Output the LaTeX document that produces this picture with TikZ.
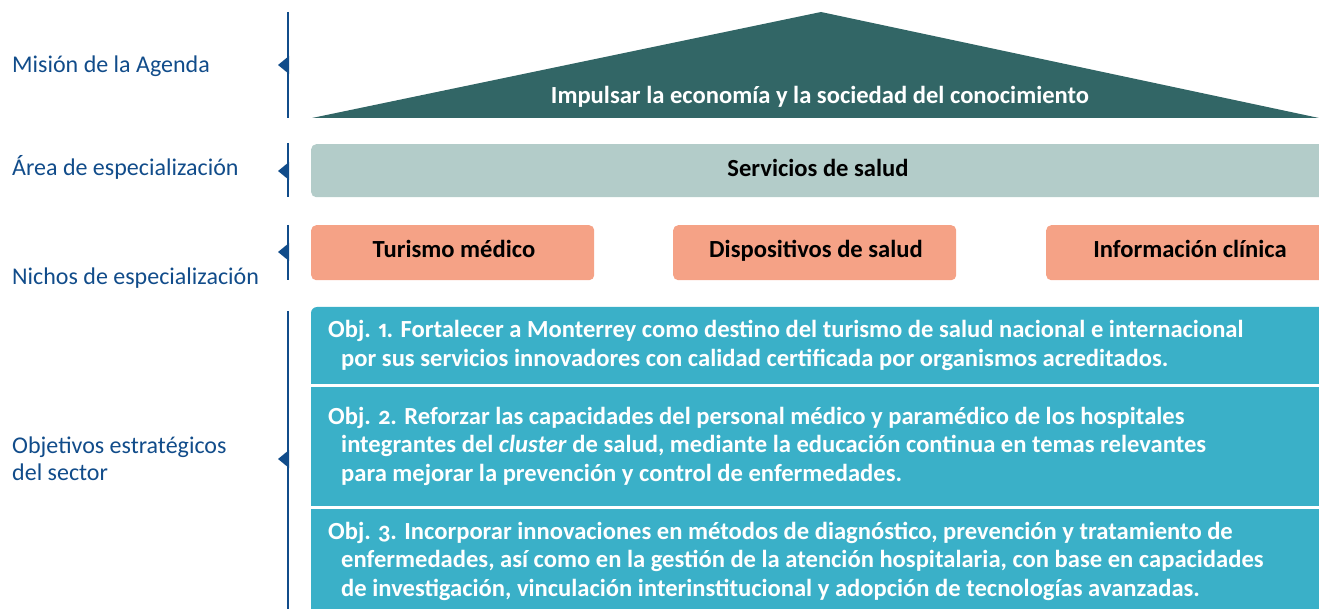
\documentclass[tikz,border=0pt]{standalone}
\usepackage{fontspec}
\setmainfont[Numbers={OldStyle,Proportional}]{Carlito}
\usetikzlibrary{positioning}

\definecolor{agendablue}{HTML}{114C8A}
\definecolor{misionteal}{HTML}{326666}
\definecolor{areagray}{HTML}{B3CCC9}
\definecolor{nichosalmon}{HTML}{F5A286}
\definecolor{objcyan}{HTML}{3AB0C8}

\begin{document}
\begin{tikzpicture}[
  x=1pt, y=-1pt,
  level/.style={font=\fontsize{24}{27}\selectfont, text=agendablue,
                anchor=base west, align=left, inner sep=0pt},
  bracket/.style={draw=agendablue, line width=2.7pt},
  tip/.style={fill=agendablue},
  boldtxt/.style={font=\bfseries\fontsize{24.6}{28}\selectfont, anchor=base, inner sep=0pt},
  nicho/.style={fill=nichosalmon, rounded corners=5pt, minimum height=55pt,
                minimum width=283pt, inner sep=0pt, anchor=north west},
  objtext/.style={anchor=base west, align=left, inner sep=0pt, text=white,
                  font=\bfseries\fontsize{24.6}{28.8}\selectfont}
]
  \useasboundingbox (0,0) rectangle (1319,609);

  % left side: levels (multi-line nodes sit on their last baseline)
  \node[level] (mision) at (12,73)  {Misión de la Agenda};
  \node[level] (area)   at (12,176) {Área de especialización};
  \node[level] (nichos) at (12,285) {Nichos de especialización};
  \node[level] (objs)   at (12,480) {Objetivos estratégicos\\del sector};

  \draw[bracket] (288,12) -- (288,118);
  \draw[bracket] (288,143) -- (288,197);
  \draw[bracket] (288,225) -- (288,280);
  \draw[bracket] (288,311) -- (288,609);
  \foreach \ty in {65,171,252,459}
    \fill[tip] (289,\ty-9) -- (278,\ty) -- (289,\ty+9) -- cycle;

  % mission roof
  \fill[misionteal] (312,118) -- (821,12) -- (1319,118) -- cycle;
  \node[boldtxt, text=white] (roof) at (820,104)
    {Impulsar la economía y la sociedad del conocimiento};

  % area
  \node[fill=areagray, rounded corners=5pt, minimum width=1020pt,
        minimum height=53pt, anchor=north west, inner sep=0pt] (salud) at (311,144) {};
  \node[boldtxt] (saludtxt) at (818,177) {Servicios de salud};

  % niches
  \node[nicho] (turismo) at (311,225) {};
  \node[nicho] (dispo)   at (673,225) {};
  \node[nicho, minimum width=300pt] (info) at (1046,225) {};
  \node[boldtxt] (turismotxt) at (454,258)  {Turismo médico};
  \node[boldtxt] (dispotxt)   at (816,258)  {Dispositivos de salud};
  \node[boldtxt] (infotxt)    at (1190,258) {Información clínica};

  % objectives
  \fill[objcyan, rounded corners=6pt] (311,700) -- (311,307) -- (1330,307) -- (1330,700);
  \fill[objcyan] (311,400) rectangle (1330,620);
  \draw[white, line width=2.2pt] (311,385.5) -- (1319,385.5);
  \draw[white, line width=2.2pt] (311,507.5) -- (1319,507.5);

  \node[objtext] (obj1) at (328,366.7) {Obj. 1. Fortalecer a Monterrey como destino del turismo de salud nacional e internacional\\
    \hspace*{13pt}por sus servicios innovadores con calidad certificada por organismos acreditados.};
  \node[objtext] (obj2) at (328,481.6) {Obj. 2. Reforzar las capacidades del personal médico y paramédico de los hospitales\\
    \hspace*{13pt}integrantes del \textit{cluster} de salud, mediante la educación continua en temas relevantes\\
    \hspace*{13pt}para mejorar la prevención y control de enfermedades.};
  \node[objtext] (obj3) at (328,596.6) {Obj. 3. Incorporar innovaciones en métodos de diagnóstico, prevención y tratamiento de\\
    \hspace*{13pt}enfermedades, así como en la gestión de la atención hospitalaria, con base en capacidades\\
    \hspace*{13pt}de investigación, vinculación interinstitucional y adopción de tecnologías avanzadas.};
\end{tikzpicture}
\end{document}
